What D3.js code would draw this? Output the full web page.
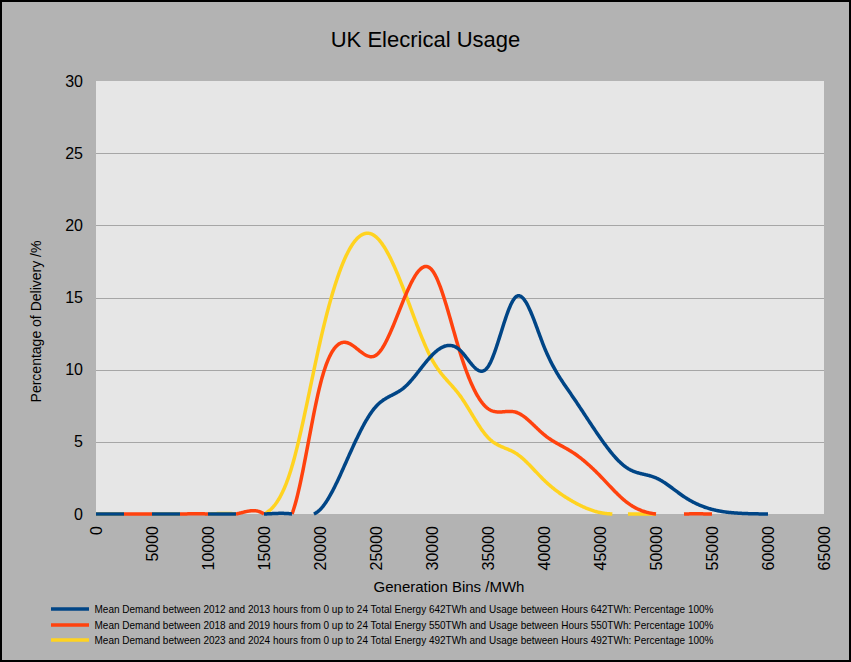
<!DOCTYPE html>
<html>
<head>
<meta charset="utf-8">
<script src="https://cdn.jsdelivr.net/npm/d3@7"></script>
<style>
  body { margin: 0; background: #b3b3b3; }
  svg { display: block; font-family: "Liberation Sans", Arial, sans-serif; }
</style>
</head>
<body>
<svg id="chart" width="851" height="662"></svg>
<script>
// generation bins (MWh)
var bins = [0, 2500, 5000, 7500, 10000, 12500, 15000, 17500, 20000, 22500, 25000, 27500,
    30000, 32500, 35000, 37500, 40000, 42500, 45000, 47500, 50000, 52500, 55000, 57500, 60000];

// percentage of delivery per bin (null = no bin)
var demand2012 = [0, 0, 0, 0, 0, 0, 0, 0, 0.3, 3.9, 7.45, 8.75,
    11.0, 11.35, 10.2, 15.05, 11.6, 8.2, 5.3, 3.15, 2.5, 1.2, 0.32, 0.05, 0];
var demand2018 = [0, 0, 0, 0, 0, 0, 0, 0, 8.9, 11.85, 11.0, 14.9,
    16.9, 11.2, 7.3, 7.05, 5.5, 4.3, 2.65, 0.75, 0, 0, 0, null, null];
var demand2023 = [0, 0, 0, 0, 0, 0, 0, 3.3, 11.9, 18.15, 19.2, 15.5,
    10.7, 8.2, 5.3, 4.2, 2.35, 0.9, 0.1, 0, 0, null, null, null, null];

var xTicks = [0, 5000, 10000, 15000, 20000, 25000, 30000, 35000, 40000, 45000, 50000, 55000, 60000, 65000];
var yTicks = [0, 5, 10, 15, 20, 25, 30];
var gridTicks = [5, 10, 15, 20, 25];

var legendLabels = [
    "Mean Demand between 2012 and 2013 hours from 0 up to 24 Total Energy 642TWh and Usage between Hours 642TWh: Percentage 100%",
    "Mean Demand between 2018 and 2019 hours from 0 up to 24 Total Energy 550TWh and Usage between Hours 550TWh: Percentage 100%",
    "Mean Demand between 2023 and 2024 hours from 0 up to 24 Total Energy 492TWh and Usage between Hours 492TWh: Percentage 100%"
];
var colours = ["#004586", "#ff420e", "#ffd320"];

var svg = d3.select("#chart");

// background + frame
svg.append("rect")
    .attr("x", 1).attr("y", 1)
    .attr("width", 849).attr("height", 660)
    .attr("fill", "#b3b3b3")
    .attr("stroke", "#000")
    .attr("stroke-width", 2);

var x = d3.scaleLinear().domain([0, 65000]).range([96, 824]);
var y = d3.scaleLinear().domain([0, 30]).range([514, 81]);

// plot area
svg.append("rect")
    .attr("x", x(0)).attr("y", y(30))
    .attr("width", x(65000) - x(0)).attr("height", y(0) - y(30))
    .attr("fill", "#e6e6e6");

svg.append("g").selectAll("line")
    .data(gridTicks)
    .enter().append("line")
    .attr("x1", x(0)).attr("x2", x(65000))
    .attr("y1", function (d) { return Math.round(y(d)) + 0.5; })
    .attr("y2", function (d) { return Math.round(y(d)) + 0.5; })
    .attr("stroke", "#a6a6a6")
    .attr("stroke-width", 1);

// axes
var yAxis = svg.append("g")
    .attr("transform", "translate(" + x(0) + ",0)")
    .call(d3.axisLeft(y).tickValues(yTicks).tickSize(0).tickPadding(13));
yAxis.select(".domain").remove();
yAxis.selectAll("text")
    .attr("font-family", "Liberation Sans, Arial, sans-serif")
    .attr("font-size", 16)
    .attr("fill", "#000");

var xAxis = svg.append("g")
    .attr("transform", "translate(0," + y(0) + ")")
    .call(d3.axisBottom(x).tickValues(xTicks).tickSize(0).tickFormat(d3.format("d")));
xAxis.select(".domain").remove();
xAxis.selectAll("text")
    .attr("font-family", "Liberation Sans, Arial, sans-serif")
    .attr("font-size", 16)
    .attr("fill", "#000")
    .attr("transform", "rotate(-90)")
    .attr("text-anchor", "end")
    .attr("x", -12)
    .attr("y", 0)
    .attr("dy", "0.35em");

// cubic spline through the bins, then cut away the parts that fall below 0
// (the chart clips the line geometry to the plot area)
function splinePieces(vals) {
    var pts = [];
    bins.forEach(function (b, i) {
        if (vals[i] != null) pts.push([x(b), y(vals[i])]);
    });
    var out = [], cur;
    var ctx = {
        moveTo: function (px, py) { cur = [px, py]; out.push(cur); },
        lineTo: function (px, py) { cur = [px, py]; out.push(cur); },
        bezierCurveTo: function (x1, y1, x2, y2, px, py) {
            var x0 = cur[0], y0 = cur[1];
            for (var k = 1; k <= 40; k++) {
                var t = k / 40, m = 1 - t;
                out.push([
                    m * m * m * x0 + 3 * m * m * t * x1 + 3 * m * t * t * x2 + t * t * t * px,
                    m * m * m * y0 + 3 * m * m * t * y1 + 3 * m * t * t * y2 + t * t * t * py
                ]);
            }
            cur = [px, py];
        },
        closePath: function () {}
    };
    d3.line().curve(d3.curveNatural).context(ctx)(pts);

    var base = y(0), pieces = [], run = [];
    for (var i = 0; i < out.length; i++) {
        var p = out[i], inside = p[1] <= base + 1e-9;
        if (inside) {
            if (!run.length && i > 0) {
                var q = out[i - 1], f = (base - q[1]) / (p[1] - q[1]);
                run.push([q[0] + f * (p[0] - q[0]), base]);
            }
            run.push(p);
        } else if (run.length) {
            var q2 = out[i - 1], f2 = (base - q2[1]) / (p[1] - q2[1]);
            run.push([q2[0] + f2 * (p[0] - q2[0]), base]);
            pieces.push(run);
            run = [];
        }
    }
    if (run.length) pieces.push(run);
    return pieces;
}

var series = [demand2012, demand2018, demand2023];
var plain = d3.line();

// drawn last series first so 2012-13 sits on top
var lines = svg.append("g");
[2, 1, 0].forEach(function (s) {
    lines.append("g").selectAll("path")
        .data(splinePieces(series[s]))
        .enter().append("path")
        .attr("d", plain)
        .attr("fill", "none")
        .attr("stroke", colours[s])
        .attr("stroke-width", 3.5)
        .attr("stroke-linejoin", "round");
});

// titles
svg.append("text")
    .attr("x", 425.5).attr("y", 47)
    .attr("text-anchor", "middle")
    .attr("font-size", 22)
    .text("UK Elecrical Usage");

svg.append("text")
    .attr("transform", "translate(41,321.5) rotate(-90)")
    .attr("text-anchor", "middle")
    .attr("font-size", 14)
    .text("Percentage of Delivery /%");

svg.append("text")
    .attr("x", 449).attr("y", 592)
    .attr("text-anchor", "middle")
    .attr("font-size", 15)
    .text("Generation Bins /MWh");

// legend
var legend = svg.append("g").selectAll("g")
    .data(legendLabels)
    .enter().append("g")
    .attr("transform", function (d, i) { return "translate(0," + [609, 625, 640][i] + ")"; });

legend.append("line")
    .attr("x1", 51).attr("x2", 89)
    .attr("y1", 0).attr("y2", 0)
    .attr("stroke", function (d, i) { return colours[i]; })
    .attr("stroke-width", 3.5);

legend.append("text")
    .attr("x", 94.5).attr("y", 0)
    .attr("dy", "0.35em")
    .attr("font-size", 11)
    .attr("textLength", 619)
    .attr("lengthAdjust", "spacingAndGlyphs")
    .text(function (d) { return d; });
</script>
</body>
</html>
